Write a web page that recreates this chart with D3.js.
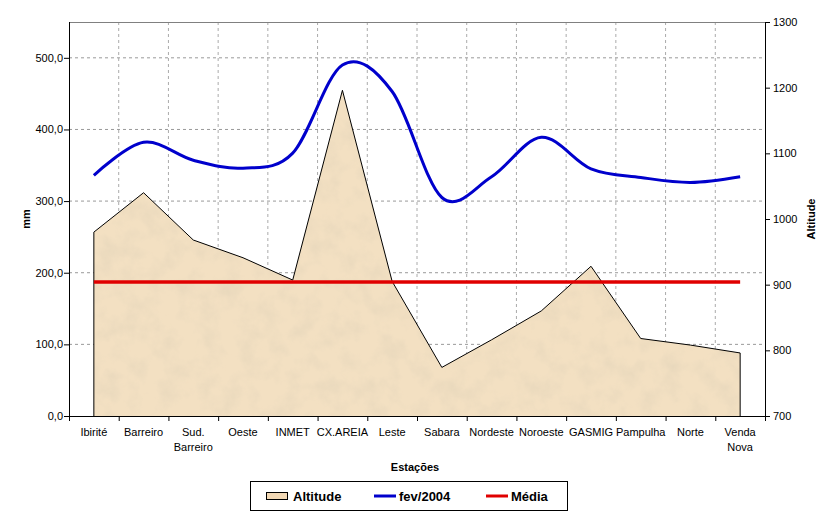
<!DOCTYPE html>
<html><head><meta charset="utf-8">
<script src="https://cdn.jsdelivr.net/npm/d3@7"></script>
<style>body{margin:0;background:#fff}svg{display:block}text{font-family:"Liberation Sans",Arial,sans-serif}</style>
</head><body><svg id="c" width="830" height="518"></svg>
<script>
const categories = ["Ibirité","Barreiro","Sud.\nBarreiro","Oeste","INMET","CX.AREIA","Leste","Sabara","Nordeste","Noroeste","GASMIG","Pampulha","Norte","Venda\nNova"];
const altitude = [980,1040,968,941,907,1196,905,774,816,860,928,818,808,796];
const fev2004 = [336,382,357,346,367,490,453,305,334,389,345,333,326,334];
const media = 187;
const leftTicks = [0,100,200,300,400,500];
const rightTicks = [700,800,900,1000,1100,1200,1300];

const svg = d3.select("#c");
const L=69, R=765, T=22, B=416;
const x = d3.scaleBand().domain(d3.range(categories.length)).range([L,R]);
const xc = i => x(i)+x.bandwidth()/2;
const yL = d3.scaleLinear().domain([0,550]).range([B,T]);
const yR = d3.scaleLinear().domain([700,1300]).range([B,T]);

const defs = svg.append("defs");
const f = defs.append("filter").attr("id","tex").attr("x",0).attr("y",0).attr("width","100%").attr("height","100%");
f.append("feTurbulence").attr("type","fractalNoise").attr("baseFrequency","0.05").attr("numOctaves",4).attr("seed",3).attr("result","n");
f.append("feColorMatrix").attr("in","n").attr("type","matrix")
 .attr("values","0 0 0 0 0.80  0 0 0 0 0.68  0 0 0 0 0.50  0 0 0 -1.6 0.95").attr("result","c");
f.append("feComposite").attr("in","c").attr("in2","SourceGraphic").attr("operator","in");
const areaGen = d3.area().x((d,i)=>xc(i)).y0(B).y1(d=>yR(d));
defs.append("clipPath").attr("id","ac").append("path").attr("d",areaGen(altitude));

// grid
const g = svg.append("g");
leftTicks.filter(t=>t>0).forEach(t=>g.append("line").attr("x1",L).attr("x2",R).attr("y1",yL(t)).attr("y2",yL(t))
  .attr("stroke","#999").attr("stroke-dasharray","3,3"));
d3.range(1,categories.length).forEach(i=>g.append("line").attr("x1",x(i)).attr("x2",x(i)).attr("y1",T).attr("y2",B)
  .attr("stroke","#aaa").attr("stroke-dasharray","3,3"));
svg.append("line").attr("x1",L).attr("x2",R).attr("y1",T+0.5).attr("y2",T+0.5).attr("stroke","#808080");

// area
svg.append("path").attr("d",areaGen(altitude)).attr("fill","#F3E0C2");
svg.append("rect").attr("x",L).attr("y",T).attr("width",R-L).attr("height",B-T).attr("fill","#000")
  .attr("filter","url(#tex)").attr("clip-path","url(#ac)");
svg.append("path").attr("d",d3.line().x((d,i)=>xc(i)).y(d=>yR(d))(altitude)).attr("fill","none").attr("stroke","#000").attr("stroke-width",1);
svg.append("line").attr("x1",xc(0)).attr("x2",xc(0)).attr("y1",yR(altitude[0])).attr("y2",B).attr("stroke","#000");
svg.append("line").attr("x1",xc(13)).attr("x2",xc(13)).attr("y1",yR(altitude[13])).attr("y2",B).attr("stroke","#000");

// media
svg.append("line").attr("x1",xc(0)).attr("x2",xc(13)).attr("y1",yL(media)).attr("y2",yL(media)).attr("stroke","#E00000").attr("stroke-width",3.5);
// fev line
svg.append("path").attr("d",d3.line().curve(d3.curveCatmullRom.alpha(0)).x((d,i)=>xc(i)).y(d=>yL(d))(fev2004))
  .attr("fill","none").attr("stroke","#0000CC").attr("stroke-width",3);

// axes
const ax = svg.append("g").attr("font-size",11);
ax.append("line").attr("x1",L+0.5).attr("x2",L+0.5).attr("y1",T).attr("y2",B).attr("stroke","#000");
ax.append("line").attr("x1",R+0.5).attr("x2",R+0.5).attr("y1",T).attr("y2",B).attr("stroke","#000");
ax.append("line").attr("x1",L).attr("x2",R).attr("y1",B+0.5).attr("y2",B+0.5).attr("stroke","#000");
leftTicks.forEach(t=>{
  ax.append("line").attr("x1",L-5).attr("x2",L).attr("y1",yL(t)+0.5).attr("y2",yL(t)+0.5).attr("stroke","#000");
  ax.append("text").attr("x",L-6).attr("y",yL(t)+4).attr("text-anchor","end").text(d3.format(".1f")(t).replace(".",","));
});
rightTicks.forEach(t=>{
  ax.append("line").attr("x1",R).attr("x2",R+5).attr("y1",yR(t)+0.5).attr("y2",yR(t)+0.5).attr("stroke","#000");
  ax.append("text").attr("x",R+8).attr("y",yR(t)+4).attr("text-anchor","start").text(t);
});
d3.range(categories.length+1).forEach(i=>{
  const xx = i<categories.length? x(i): R;
  ax.append("line").attr("x1",xx+0.5).attr("x2",xx+0.5).attr("y1",B).attr("y2",B+5).attr("stroke","#000");
});
categories.forEach((c,i)=>{
  const t = ax.append("text").attr("x",xc(i)).attr("y",436).attr("text-anchor","middle");
  c.split("\n").forEach((s,j)=>t.append("tspan").attr("x",xc(i)).attr("dy",j?15:0).text(s));
});
svg.append("text").attr("x",415).attr("y",471).attr("text-anchor","middle").attr("font-weight","bold").attr("font-size",11).text("Estações");
svg.append("text").attr("transform","translate(30,219) rotate(-90)").attr("text-anchor","middle").attr("font-weight","bold").attr("font-size",11).text("mm");
svg.append("text").attr("transform","translate(815,219) rotate(-90)").attr("text-anchor","middle").attr("font-weight","bold").attr("font-size",11).text("Altitude");

// legend
const lg = svg.append("g");
lg.append("rect").attr("x",250.5).attr("y",481.5).attr("width",317).attr("height",29).attr("fill","#fff").attr("stroke","#000");
lg.append("rect").attr("x",266.5).attr("y",492.5).attr("width",21).attr("height",7).attr("fill","#F3D9B5").attr("stroke","#000");
lg.append("text").attr("x",293).attr("y",501).attr("font-weight","bold").attr("font-size",13).text("Altitude");
lg.append("line").attr("x1",374).attr("x2",396).attr("y1",496).attr("y2",496).attr("stroke","#0000CC").attr("stroke-width",3);
lg.append("text").attr("x",399).attr("y",501).attr("font-weight","bold").attr("font-size",13).text("fev/2004");
lg.append("line").attr("x1",486).attr("x2",508).attr("y1",496).attr("y2",496).attr("stroke","#E00000").attr("stroke-width",3);
lg.append("text").attr("x",511).attr("y",501).attr("font-weight","bold").attr("font-size",13).text("Média");
</script></body></html>
